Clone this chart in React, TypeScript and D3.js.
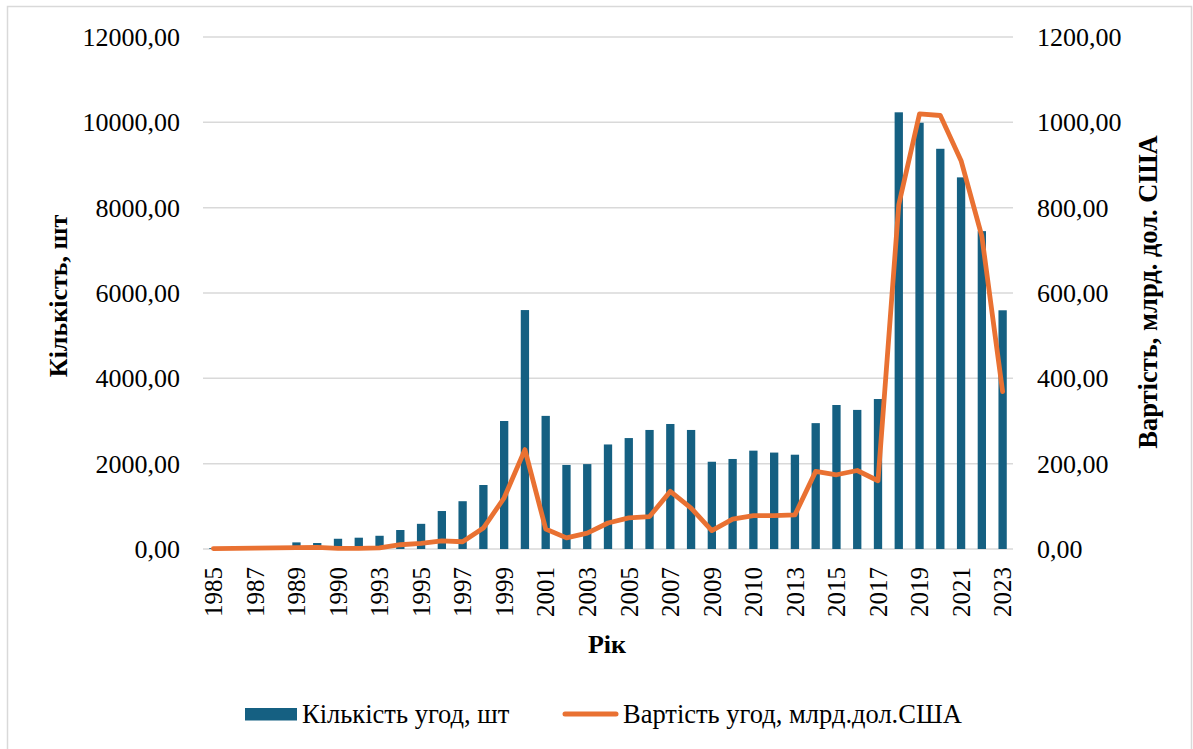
import React from "react";
import * as d3 from "d3";

const categories: string[] = [
  "1985", "1986", "1987", "1988", "1989", "1990", "1990", "1992", "1993", "1994",
  "1995", "1996", "1997", "1998", "1999", "2000", "2001", "2002", "2003", "2004",
  "2005", "2006", "2007", "2008", "2009", "2010", "2010", "2012", "2013", "2014",
  "2015", "2016", "2017", "2018", "2019", "2020", "2021", "2022", "2023",
];

const dealCount: number[] = [
  20, 30, 50, 70, 155, 140, 240, 265, 310, 445,
  590, 890, 1120, 1500, 3000, 5600, 3120, 1970, 1990, 2450,
  2600, 2790, 2930, 2790, 2045, 2110, 2305, 2260, 2210, 2950,
  3375, 3260, 3515, 10235, 9990, 9380, 8710, 7450, 5595,
];

const dealValue: number[] = [
  1, 1.5, 2, 2.5, 3, 4, 1.5, 1.5, 2.5, 10,
  13, 19, 17, 49, 120, 233, 47, 26, 37, 61,
  73, 76, 135, 96, 43, 70, 78, 78, 80, 182,
  174, 184, 160, 807, 1020, 1016, 910, 733, 369,
];

const leftTicks: number[] = [0, 2000, 4000, 6000, 8000, 10000, 12000];
const rightTicks: number[] = [0, 200, 400, 600, 800, 1000, 1200];

const W = 1193;
const H = 749;
const plot = { left: 203, right: 1013, top: 37, bottom: 549 };
const FONT = "'Liberation Serif', 'Times New Roman', serif";
const BAR = "#156082";
const LINE = "#E97132";
const GRID = "#D9D9D9";

const fmt = (v: number) => d3.format(".2f")(v).replace(".", ",");

export default function App() {
  const idx = categories.map((_, i) => i);
  const x = d3
    .scaleBand<number>()
    .domain(idx)
    .range([plot.left, plot.right])
    .paddingInner(0.6)
    .paddingOuter(0.3);
  const yL = d3.scaleLinear().domain([0, 12000]).range([plot.bottom, plot.top]);
  const yR = d3.scaleLinear().domain([0, 1200]).range([plot.bottom, plot.top]);
  const cx = (i: number) => (x(i) as number) + x.bandwidth() / 2;

  const line = d3
    .line<number>()
    .x((_, i) => cx(i))
    .y((d) => yR(d));

  return (
    <svg
      width={W}
      height={H}
      style={{ position: "absolute", left: 0, top: 0, background: "#fff" }}
      fontFamily={FONT}
    >
      <rect x={0} y={0} width={W} height={H} fill="#fff" />
      <rect x={7.5} y={6.5} width={1184} height={760} fill="none" stroke={GRID} strokeWidth={1.5} />

      {leftTicks.map((t) => (
        <line
          key={"g" + t}
          x1={plot.left}
          x2={plot.right}
          y1={yL(t)}
          y2={yL(t)}
          stroke={GRID}
          strokeWidth={1.5}
        />
      ))}

      {dealCount.map((v, i) => (
        <rect
          key={"b" + i}
          x={x(i)}
          y={yL(v)}
          width={x.bandwidth()}
          height={yL(0) - yL(v)}
          fill={BAR}
        />
      ))}

      <path
        d={line(dealValue) || ""}
        fill="none"
        stroke={LINE}
        strokeWidth={4.8}
        strokeLinejoin="round"
        strokeLinecap="round"
      />

      {leftTicks.map((t) => (
        <text key={"l" + t} x={180} y={yL(t)} dy="0.35em" textAnchor="end" fontSize={26} fill="#000">
          {fmt(t)}
        </text>
      ))}
      {rightTicks.map((t) => (
        <text key={"r" + t} x={1037} y={yR(t)} dy="0.35em" textAnchor="start" fontSize={26} fill="#000">
          {fmt(t)}
        </text>
      ))}

      {categories.map((c, i) =>
        i % 2 === 0 ? (
          <text
            key={"x" + i}
            transform={`translate(${cx(i)},567) rotate(-90)`}
            dy="0.35em"
            textAnchor="end"
            fontSize={25}
            fill="#000"
          >
            {c}
          </text>
        ) : null
      )}

      <text
        transform="translate(58,296) rotate(-90)"
        dy="0.35em"
        textAnchor="middle"
        fontSize={26}
        fontWeight="bold"
        fill="#000"
      >
        Кількість, шт
      </text>
      <text
        transform="translate(1148,292) rotate(-90)"
        dy="0.35em"
        textAnchor="middle"
        fontSize={26.5}
        fontWeight="bold"
        fill="#000"
      >
        Вартість, млрд. дол. США
      </text>
      <text x={607} y={653} textAnchor="middle" fontSize={26} fontWeight="bold" fill="#000">
        Рік
      </text>

      <rect x={245} y={708} width={52} height={12.5} fill={BAR} />
      <text x={302} y={714} dy="0.35em" fontSize={26.5} fill="#000">
        Кількість угод, шт
      </text>
      <line x1={565} x2={616} y1={714} y2={714} stroke={LINE} strokeWidth={5} strokeLinecap="round" />
      <text x={623} y={714} dy="0.35em" fontSize={26.5} fill="#000">
        Вартість угод, млрд.дол.США
      </text>
    </svg>
  );
}
